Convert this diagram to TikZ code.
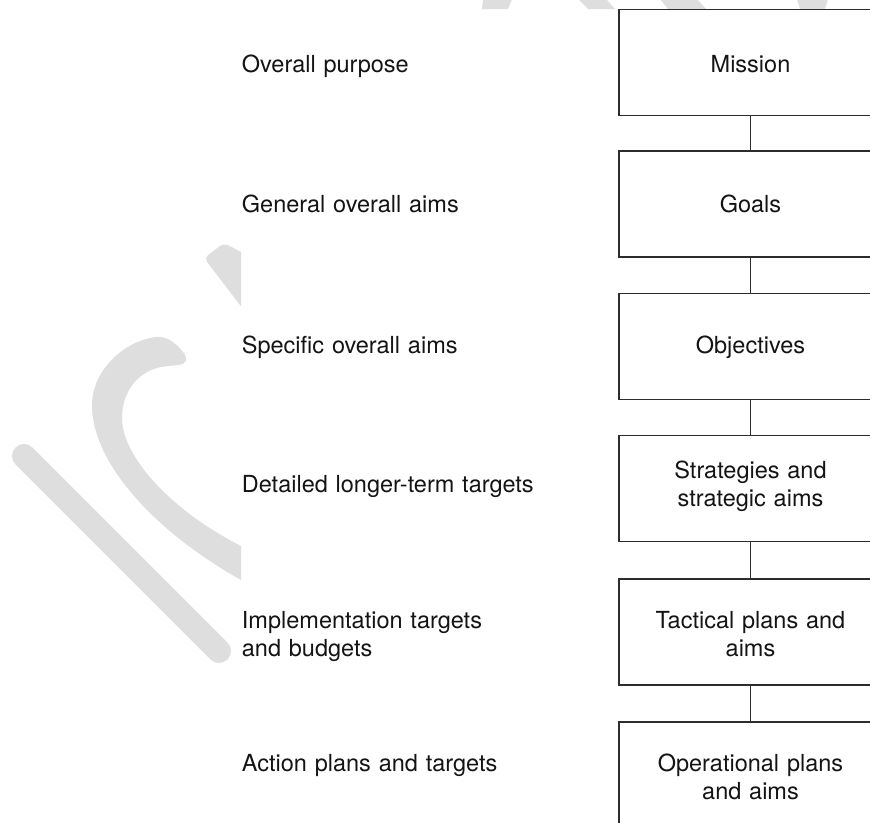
\documentclass[tikz,border=0pt]{standalone}
\usepackage{fontspec}
\setmainfont{TeX Gyre Heros}
\definecolor{wmgray}{RGB}{222,222,222}
\definecolor{edge}{RGB}{45,45,45}
\definecolor{ink}{RGB}{20,20,20}
\begin{document}
\begin{tikzpicture}[x=1pt,y=-1pt,
  box/.style={draw=edge, line width=1.4pt, rectangle, minimum width=263pt,
    minimum height=106pt, inner sep=0pt, outer sep=0pt},
  conn/.style={draw=edge, line width=1.4pt},
  boxtext/.style={font=\fontsize{23.5}{28}\selectfont, text=ink,
    text width=263pt, align=center, inner sep=0pt, anchor=base},
  sidetext/.style={font=\fontsize{23.5}{28}\selectfont, text=ink,
    text width=320pt, align=left, inner sep=0pt, anchor=base west},
  mark band/.style={draw=wmgray, line width=24pt, line cap=round},
]
\useasboundingbox (0,0) rectangle (870,822);
\clip (0,0) rectangle (870,822);
\fill[white] (0,0) rectangle (870,822);

% light grey background swooshes
\begin{scope}
  \clip (0,0) rectangle (241,822) (241,0) rectangle (870,9);
  \fill[wmgray, rounded corners=5pt] (260,262) -- (224,243) -- (204,258) -- (250,318) -- cycle;
  \fill[wmgray] (157,337) .. controls (125,340) and (92,370) .. (92,405)
    .. controls (92,470) and (170,545) .. (260,590)
    -- (260,555)
    .. controls (180,520) and (122,460) .. (122,418)
    .. controls (122,390) and (140,368) .. (168,366)
    -- (178,365) .. controls (188,364) and (188,358) .. (183,352)
    .. controls (175,342) and (166,336) .. (157,337) -- cycle;
  \coordinate (bandA) at (24,456);
  \coordinate (bandB) at (219,651);
  \draw[mark band] (bandA) -- (bandB);
  \fill[wmgray] (483,-1) -- (512,-1) -- (508,9) -- (482,9) -- cycle;
  \fill[wmgray] (578,-1) -- (606,-1) -- (615,9) -- (588,9) -- cycle;
  \fill[wmgray] (660,-1) -- (697,-1) -- (706,9) -- (668,9) -- cycle;
  \fill[wmgray] (797,-1) -- (828,-1) -- (825,9) -- (800,9) -- cycle;
\end{scope}

% hierarchy boxes
\node[box] (b1) at (750.5,62.6) {};
\node[box] (b2) at (750.5,203.9) {};
\node[box] (b3) at (750.5,346.2) {};
\node[box] (b4) at (750.5,488.7) {};
\node[box] (b5) at (750.5,632) {};
\node[box] (b6) at (750.5,775) {};

\draw[conn] (b1.south) -- (b2.north);
\draw[conn] (b2.south) -- (b3.north);
\draw[conn] (b3.south) -- (b4.north);
\draw[conn] (b4.south) -- (b5.north);
\draw[conn] (b5.south) -- (b6.north);

% box labels
\node[boxtext] (m1) at (750.5,72.5) {Mission};
\node[boxtext] (m2) at (750.5,212) {Goals};
\node[boxtext] (m3) at (750.5,353.5) {Objectives};
\node[boxtext] (m4) at (750.5,478) {Strategies and\\strategic aims};
\node[boxtext] (m5) at (750.5,628.3) {Tactical plans and\\aims};
\node[boxtext] (m6) at (750.5,771.7) {Operational plans\\and aims};

% descriptions on the left
\node[sidetext] (d1) at (241.7,72) {Overall purpose};
\node[sidetext] (d2) at (241.7,212) {General overall aims};
\node[sidetext] (d3) at (241.7,353.5) {Specific overall aims};
\node[sidetext] (d4) at (241.7,492) {Detailed longer-term targets};
\node[sidetext] (d5) at (241.7,628.3) {Implementation targets\\and budgets};
\node[sidetext] (d6) at (241.7,771.7) {Action plans and targets};
\end{tikzpicture}
\end{document}
